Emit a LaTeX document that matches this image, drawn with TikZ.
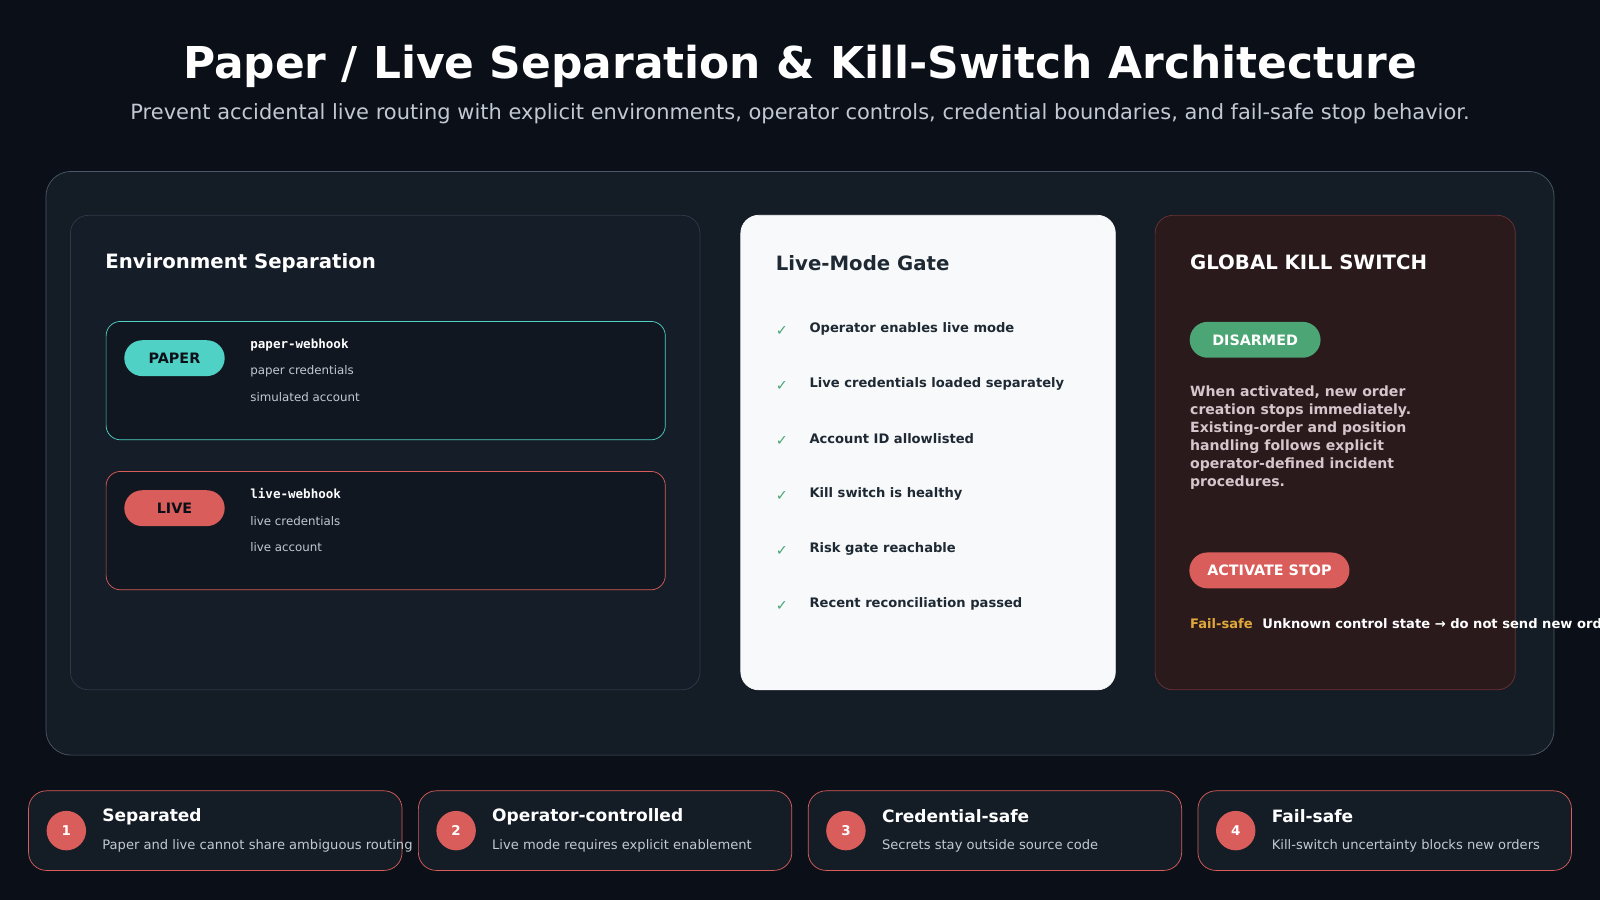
\documentclass[tikz,border=0pt]{standalone}
\usepackage{fontspec}
\setmainfont{DejaVu Sans}
\setmonofont{DejaVu Sans Mono}
\usetikzlibrary{positioning}
\definecolor{bgdark}{HTML}{0B1018}
\definecolor{panelbg}{HTML}{141C26}
\definecolor{panelline}{HTML}{4A5866}
\definecolor{cardbg}{HTML}{151D28}
\definecolor{cardline}{HTML}{2E3A48}
\definecolor{innerbg}{HTML}{101720}
\definecolor{teal}{HTML}{4FD1C5}
\definecolor{redc}{HTML}{D95D5A}
\definecolor{greenc}{HTML}{4CA574}
\definecolor{gatebg}{HTML}{F7F9FB}
\definecolor{killbg}{HTML}{2A1A1C}
\definecolor{killline}{HTML}{6A3236}
\definecolor{subtxt}{HTML}{C2C9D2}
\definecolor{darktxt}{HTML}{1F2933}
\definecolor{amber}{HTML}{E0A83A}
\tikzset{
    panel/.style={
        draw=cardline,
        fill=cardbg,
        rounded corners=10pt
    },
    heading/.style={
        anchor=west,
        inner sep=0pt,
        font=\fontsize{11}{13}\selectfont\bfseries,
        text=white
    },
    pill/.style={
        rounded corners=10pt,
        inner xsep=10pt,
        minimum height=20pt,
        font=\fontsize{8}{10}\selectfont\bfseries
    },
    small/.style={
        anchor=west,
        inner sep=0pt,
        font=\fontsize{6.6}{8}\selectfont,
        text=subtxt
    },
    check/.style={
        anchor=west,
        inner sep=0pt,
        font=\fontsize{8}{10}\selectfont,
        text=greenc
    },
    checktxt/.style={
        anchor=west,
        inner sep=0pt,
        font=\fontsize{7.3}{9}\selectfont\bfseries,
        text=darktxt
    },
    numdot/.style={
        circle,
        fill=redc,
        minimum size=22pt,
        inner sep=0pt,
        text=white,
        font=\fontsize{7.5}{9}\selectfont\bfseries
    }
}

\begin{document}
\begin{tikzpicture}[x=0.02cm,y=-0.02cm]

\fill[bgdark] (0,0) rectangle (1568,882);
\useasboundingbox (0,0) rectangle (1568,882);

\node[font=\fontsize{24.5}{28}\selectfont\bfseries, text=white] (title) at (784,65) {Paper / Live Separation \& Kill-Switch Architecture};
\node[font=\fontsize{11.7}{14}\selectfont, text=subtxt] (subtitle) at (784,111) {Prevent accidental live routing with explicit environments, operator controls, credential boundaries, and fail-safe stop behavior.};

% main frame
\draw[panelline, fill=panelbg, rounded corners=14pt] (45,168) rectangle (1523,740);

% environment separation
\draw[panel] (69,211) rectangle (686,676);
\node[heading] (envhead) at (103,258) {Environment Separation};

\draw[teal, fill=innerbg, rounded corners=8pt] (104,315) rectangle (652,431);
\node[pill, fill=teal, text=bgdark, minimum width=56pt] (paper) at (171,351) {PAPER};
\node[anchor=west, inner sep=0pt, font=\fontsize{7}{8}\selectfont\ttfamily\bfseries, text=white] (paperhook) at (245,338) {paper-webhook};
\node[small] (papercred) at (245,364) {paper credentials};
\node[small] (paperacct) at (245,389) {simulated account};

\draw[redc, fill=innerbg, rounded corners=8pt] (104,462) rectangle (652,578);
\node[pill, fill=redc, text=bgdark, minimum width=56pt] (live) at (171,498) {LIVE};
\node[anchor=west, inner sep=0pt, font=\fontsize{7}{8}\selectfont\ttfamily\bfseries, text=white] (livehook) at (245,484) {live-webhook};
\node[small] (livecred) at (245,511) {live credentials};
\node[small] (liveacct) at (245,536) {live account};

% live-mode gate
\draw[gatebg, fill=gatebg, rounded corners=10pt] (726,211) rectangle (1093,676);
\node[heading, text=darktxt] (gatehead) at (760,258) {Live-Mode Gate};
\foreach \txt [count=\i] in {Operator enables live mode, Live credentials loaded separately, Account ID allowlisted, Kill switch is healthy, Risk gate reachable, Recent reconciliation passed}{
    \node[check] (chk\i) at (760,270+54*\i) {\char"2713};
    \node[checktxt] (item\i) at (793,268+54*\i) {\txt};
}

% kill switch
\draw[killline, fill=killbg, rounded corners=10pt] (1132,211) rectangle (1485,676);
\node[heading] (killhead) at (1166,257) {GLOBAL KILL SWITCH};
\node[pill, fill=greenc, text=white, minimum width=73pt] (disarmed) at (1230,333) {DISARMED};
\node[anchor=north west, align=left, inner sep=0pt, font=\fontsize{7.85}{10}\selectfont\bfseries, text=subtxt!70!pink] (killtxt) at (1166,378) {When activated, new order\\creation stops immediately.\\Existing-order and position\\handling follows explicit\\operator-defined incident\\procedures.};
\node[pill, fill=redc, text=white, minimum width=89pt] (stop) at (1244,559) {ACTIVATE STOP};
\node[anchor=west, inner sep=0pt, font=\fontsize{7.3}{9}\selectfont\bfseries, text=amber] (failtag) at (1166,611) {Fail-safe};
\node[anchor=west, inner sep=0pt, font=\fontsize{7.3}{9}\selectfont\bfseries, text=white, right=5pt of failtag] (failtxt) {Unknown control state \char"2192{} do not send new orders};

% bottom cards
\foreach \ttl/\desc [count=\i] in {Separated/Paper and live cannot share ambiguous routing, Operator-controlled/Live mode requires explicit enablement, Credential-safe/Secrets stay outside source code, Fail-safe/Kill-switch uncertainty blocks new orders}{
    \draw[redc, fill=panelbg, rounded corners=10pt] (28+382*\i-382,775) rectangle (394+382*\i-382,853);
    \node[numdot] (num\i) at (65+382*\i-382,814) {\i};
    \node[anchor=west, inner sep=0pt, font=\fontsize{9.5}{12}\selectfont\bfseries, text=white] (card\i) at (100+382*\i-382,800) {\ttl};
    \node[small, font=\fontsize{7.3}{9}\selectfont] (carddesc\i) at (100+382*\i-382,829) {\desc};
}

\end{tikzpicture}
\end{document}
